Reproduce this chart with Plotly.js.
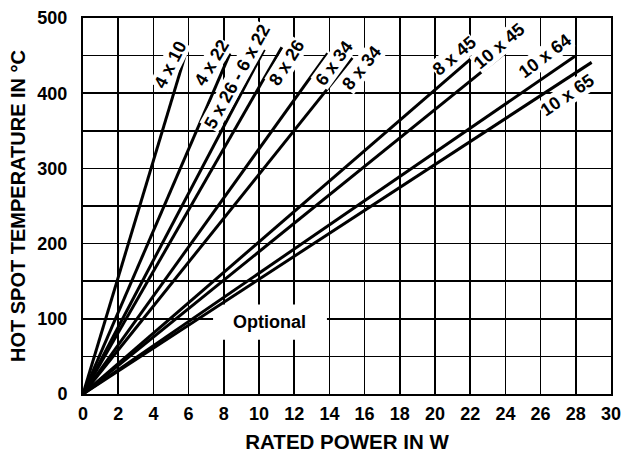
<!DOCTYPE html>
<html>
<head>
<meta charset="utf-8">
<script src="https://cdn.plot.ly/plotly-3.0.1.min.js"></script>
<style>html,body{margin:0;padding:0;background:#fff;}#chart{width:630px;height:453px;}</style>
</head>
<body>
<div id="chart"></div>
<script>
// Resistor sizes (series names)
var seriesNames = ["4 x 10", "4 x 22", "5 x 26 - 6 x 22", "8 x 26", "6 x 34", "8 x 34", "8 x 45", "10 x 45", "10 x 64", "10 x 65"];
// Each line starts at the origin (0 W, 0 °C)
var startPower = [0, 0, 0, 0, 0, 0, 0, 0, 0, 0];
var startTemp = [0, 0, 0, 0, 0, 0, 0, 0, 0, 0];
// End point of each line (rated power in W, hot spot temperature in °C)
var endPower = [5.8, 8.35, 10.3, 11.3, 13.9, 15.3, 22.2, 24.0, 27.95, 28.9];
var endTemp = [450, 453, 458, 461, 453, 447, 449, 454, 449, 441];

// Label placement (data coordinates) and text angle
var labelX = [4.94, 7.31, 8.73, 11.57, 14.28, 15.84, 21.08, 23.64, 26.25, 27.52];
var labelY = [438, 440, 422, 440, 440, 433, 450, 463, 449, 398];
var labelAngle = [-63, -59, -61, -58, -54, -51, -40, -40, -37, -34];

var xTicks = [0, 2, 4, 6, 8, 10, 12, 14, 16, 18, 20, 22, 24, 26, 28, 30];
var yTicks = [0, 100, 200, 300, 400, 500];

var FONT = "Liberation Sans, Arial, Helvetica, sans-serif";

var traces = seriesNames.map(function (n, i) {
  return {
    x: [startPower[i], endPower[i]],
    y: [startTemp[i], endTemp[i]],
    mode: "lines",
    name: n,
    line: {color: "#000", width: 3},
    hoverinfo: "skip"
  };
});

var annotations = seriesNames.map(function (n, i) {
  return {
    x: labelX[i], y: labelY[i], xref: "x", yref: "y",
    text: "<b>" + n + "</b>", showarrow: false, textangle: labelAngle[i],
    bgcolor: "#fff", borderpad: 0,
    font: {family: FONT, size: 18, color: "#000"}
  };
});
annotations.push({
  x: 10.6, y: 96, xref: "x", yref: "y",
  text: "<b>Optional</b>", showarrow: false,
  font: {family: FONT, size: 18, color: "#000"}
});

var layout = {
  width: 630, height: 453,
  margin: {l: 83, r: 19, t: 18, b: 59},
  paper_bgcolor: "#fff", plot_bgcolor: "#fff",
  showlegend: false,
  font: {family: FONT, color: "#000"},
  xaxis: {
    range: [0, 30], tickvals: xTicks, ticktext: xTicks.map(function (v) { return "<b>" + v + "</b>"; }),
    showgrid: true, gridcolor: "#000", gridwidth: 1.5,
    showline: true, mirror: true, linecolor: "#000", linewidth: 2,
    zeroline: false, ticks: "", ticklabelstandoff: 2,
    tickfont: {family: FONT, size: 18, color: "#000"},
    title: {text: "<b>RATED POWER IN W</b>", font: {family: FONT, size: 20.5, color: "#000"}, standoff: 20}
  },
  yaxis: {
    range: [0, 500], tickvals: yTicks, ticktext: yTicks.map(function (v) { return "<b>" + v + "</b>"; }),
    showgrid: true, gridcolor: "#000", gridwidth: 1.5,
    minor: {dtick: 50, showgrid: true, gridcolor: "#000", gridwidth: 1.5},
    showline: true, mirror: true, linecolor: "#000", linewidth: 2,
    zeroline: false, ticks: "", ticklabelstandoff: 10,
    tickfont: {family: FONT, size: 18, color: "#000"},
    title: {text: "<b>HOT SPOT TEMPERATURE IN °C</b>", font: {family: FONT, size: 20, color: "#000"}, standoff: 6}
  },
  shapes: [{
    type: "rect", xref: "x", yref: "y", layer: "between",
    x0: 7.39, x1: 13.86, y0: 72, y1: 119,
    fillcolor: "#fff", line: {width: 0}
  }],
  annotations: annotations
};

Plotly.newPlot("chart", traces, layout, {staticPlot: true, displayModeBar: false});
</script>
</body>
</html>
